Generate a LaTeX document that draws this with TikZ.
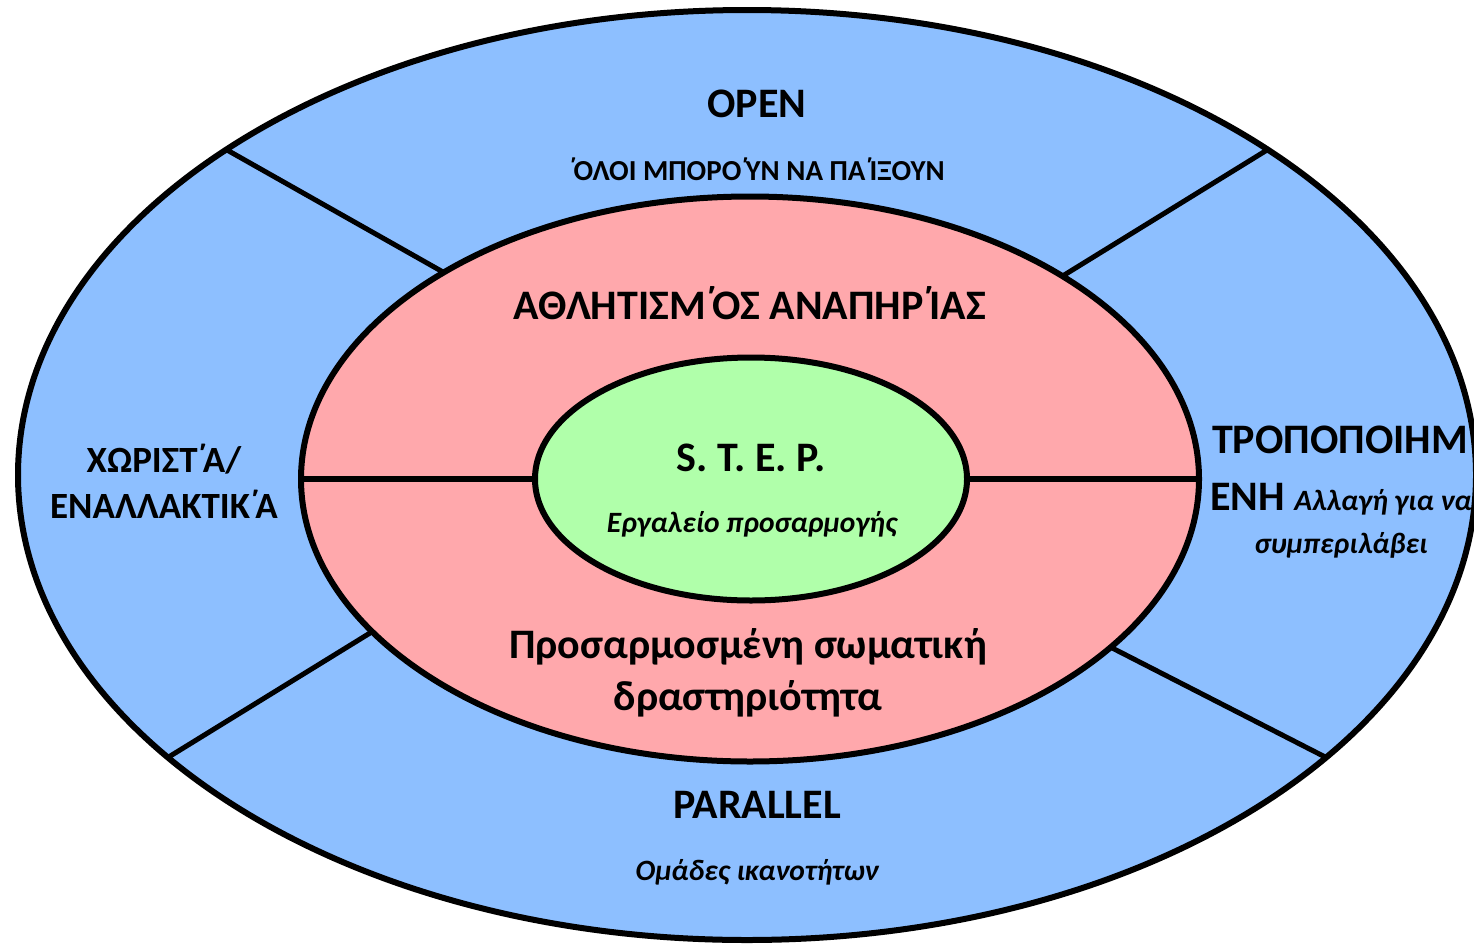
\documentclass[tikz,border=0pt]{standalone}
\usepackage{fontspec}
\setmainfont{Carlito}
\usetikzlibrary{shapes.geometric}
\definecolor{ringblue}{RGB}{141,191,255}
\definecolor{ringpink}{RGB}{255,168,172}
\definecolor{ringgreen}{RGB}{176,255,170}
\newcommand{\tns}{\kern-0.04em\raisebox{0.05em}{^^^^0384}\kern-0.13em}
\begin{document}
\begin{tikzpicture}[x=1pt,y=-1pt,
  ring/.style={ellipse, draw=black, line width=6pt, inner sep=0pt, outer sep=0pt},
  spoke/.style={draw=black, line width=5pt},
  divider/.style={draw=black, line width=6pt},
  big/.style={font=\fontsize{42}{46}\selectfont\bfseries, inner sep=0pt, anchor=base},
  side/.style={font=\fontsize{37}{42}\selectfont\bfseries, inner sep=0pt, anchor=base},
  rside/.style={font=\fontsize{42}{46}\selectfont\bfseries, inner sep=0pt, anchor=base},
  small/.style={font=\fontsize{29}{33}\selectfont\bfseries, inner sep=0pt, anchor=base},
  smallit/.style={font=\fontsize{29.5}{33}\selectfont\bfseries\itshape, inner sep=0pt, anchor=base}]
\useasboundingbox (0,0) rectangle (1474,945);
% rings
\node[ring, fill=ringblue, minimum width=1458pt, minimum height=930pt] (outer) at (747,475) {};
\node[ring, fill=ringpink, minimum width=898pt, minimum height=565pt] (pink) at (750,479) {};
% spokes
\draw[spoke] (outer.148.8) -- (pink.146.4);
\draw[spoke] (outer.32.2) -- (pink.33.4);
\draw[spoke] (outer.206.4) -- (pink.202.6);
\draw[spoke] (outer.334.4) -- (pink.335.5);
\node[ring, fill=ringgreen, minimum width=432pt, minimum height=243pt] (green) at (751,479) {};
% dividers
\draw[divider] (pink.west) -- (green.west);
\draw[divider] (green.east) -- (pink.east);
% texts
\node[big] (open) at (757,117) {OPEN};
\node[small] (openSub) at (757,180) {\tns ΟΛΟΙ ΜΠΟΡΟ\tns ΥΝ ΝΑ ΠΑ\tns ΙΞΟΥΝ};
\node[big] (disab) at (750,319) {ΑΘΛΗΤΙΣΜ\tns ΟΣ ΑΝΑΠΗΡ\tns ΙΑΣ};
\node[big] (step) at (751,471) {S. T. E. P.};
\node[smallit] (stepSub) at (752,532) {Εργαλείο προσαρμογής};
\node[side] (sepA) at (164,472) {ΧΩΡΙΣΤ\tns Α/};
\node[side] (sepB) at (164,518) {ΕΝΑΛΛΑΚΤΙΚ\tns Α};
\node[rside] (modA) at (1340,453) {ΤΡΟΠΟΠΟΙΗΜ};
\node[rside] (modB) at (1341,510) {ΕΝΗ {\fontsize{29.5}{33}\selectfont\itshape Αλλαγή για να}};
\node[smallit] (modC) at (1341,553) {συμπεριλάβει};
\node[big] (adaptA) at (748,658) {Προσαρμοσμένη σωματική};
\node[big] (adaptB) at (748,710) {δραστηριότητα};
\node[big] (par) at (757,818) {PARALLEL};
\node[smallit] (parSub) at (757,880) {Ομάδες ικανοτήτων};
\end{tikzpicture}
\end{document}
